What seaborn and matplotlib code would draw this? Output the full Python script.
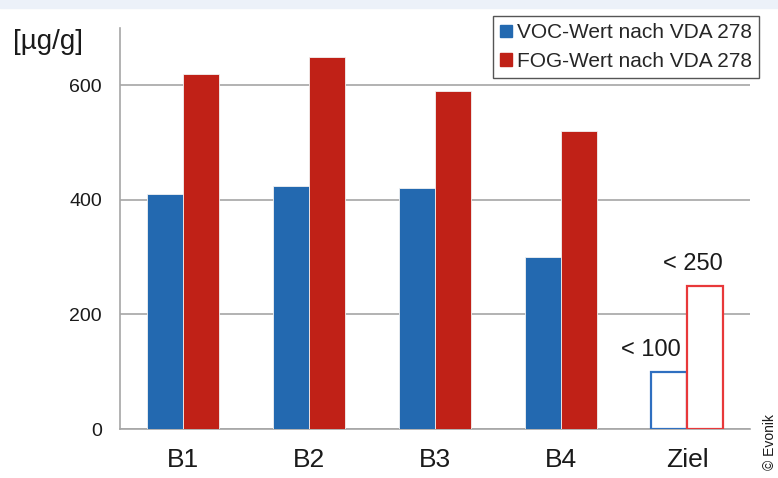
import numpy as np
import pandas as pd
import matplotlib
matplotlib.use("Agg")
import matplotlib.pyplot as plt
import matplotlib.patches as mpatches
import seaborn as sns

# data
categories = ["B1", "B2", "B3", "B4", "Ziel"]
voc = [410, 425, 420, 300, 100]
fog = [620, 650, 590, 520, 250]
series = ["VOC-Wert nach VDA 278", "FOG-Wert nach VDA 278"]
ziel_labels = ["< 100", "< 250"]

blue = "#2369b0"
red = "#c02117"
blue_edge = "#2f6fc0"
red_edge = "#e8383a"
grey = "#a6a6a6"

sns.set_style("white")
plt.rcParams["font.family"] = ["Liberation Sans", "DejaVu Sans"]

df = pd.DataFrame({
    "cat": categories * 2,
    "val": voc + fog,
    "serie": [series[0]] * len(categories) + [series[1]] * len(categories),
})

fig = plt.figure(figsize=(7.78, 4.78), dpi=100)
ax = fig.add_axes([120 / 778, 1 - 429 / 478, 630 / 778, 401 / 478])

# top band
fig.patches.append(mpatches.Rectangle((0, 1 - 8 / 478), 1, 8 / 478,
                                      transform=fig.transFigure,
                                      color="#ecf1f9", zorder=0))

sns.barplot(data=df, x="cat", y="val", hue="serie", order=categories,
            hue_order=series, palette=[blue, red], saturation=1, width=0.57,
            edgecolor="#f2f2f2", linewidth=0.6, ax=ax, legend=False,
            zorder=3)

# Ziel bars are hollow
for cont, ec in zip(ax.containers, [blue_edge, red_edge]):
    p = cont.patches[-1]
    p.set_facecolor("white")
    p.set_edgecolor(ec)
    p.set_linewidth(1.6)

# labels above Ziel bars
zc = [ax.containers[0].patches[-1], ax.containers[1].patches[-1]]
ax.text(zc[0].get_x(), voc[-1] + 18, ziel_labels[0],
        ha="center", va="bottom", fontsize=17, color="#1a1a1a")
ax.text(zc[1].get_x() + zc[1].get_width() * 0.15, fog[-1] + 18, ziel_labels[1],
        ha="center", va="bottom", fontsize=17, color="#1a1a1a")

ax.set_ylim(0, 700)
ax.set_xlim(-0.5, len(categories) - 0.5)
ax.set_yticks([0, 200, 400, 600])
ax.yaxis.grid(True, color=grey, linewidth=1.2, zorder=0)
ax.set_axisbelow(True)
ax.set_xlabel("")
ax.set_ylabel("")

for s in ["top", "right"]:
    ax.spines[s].set_visible(False)
for s in ["left", "bottom"]:
    ax.spines[s].set_color(grey)
    ax.spines[s].set_linewidth(1.2)

ax.tick_params(axis="y", length=5, width=1.2, color=grey, labelsize=14,
               pad=8, labelcolor="#1a1a1a")
ax.tick_params(axis="x", which="major", length=0, labelsize=19, pad=14,
               labelcolor="#1a1a1a")
ax.set_xticks(np.arange(-0.5, len(categories)), minor=True)
ax.tick_params(axis="x", which="minor", length=6, width=1.2, color=grey)

# legend
handles = [mpatches.Patch(color=blue), mpatches.Patch(color=red)]
leg = ax.legend(handles, series, loc="upper right",
                bbox_to_anchor=(759 / 778, 1 - 16 / 478),
                bbox_transform=fig.transFigure, borderaxespad=0,
                fontsize=15, handlelength=0.55, handleheight=0.55,
                handletextpad=0.25, labelspacing=0.45, borderpad=0.35,
                fancybox=False, framealpha=1, edgecolor="#555555")
leg.get_frame().set_linewidth(1.0)

fig.text(13 / 778, 1 - 42 / 478, "[µg/g]", fontsize=20, va="center",
         ha="left", color="#1a1a1a")
fig.text(763 / 778, 1 - 470 / 478, "© Evonik", fontsize=10, rotation=90,
         ha="left", va="bottom", color="#1a1a1a")

fig.savefig("out.png", dpi=100)
